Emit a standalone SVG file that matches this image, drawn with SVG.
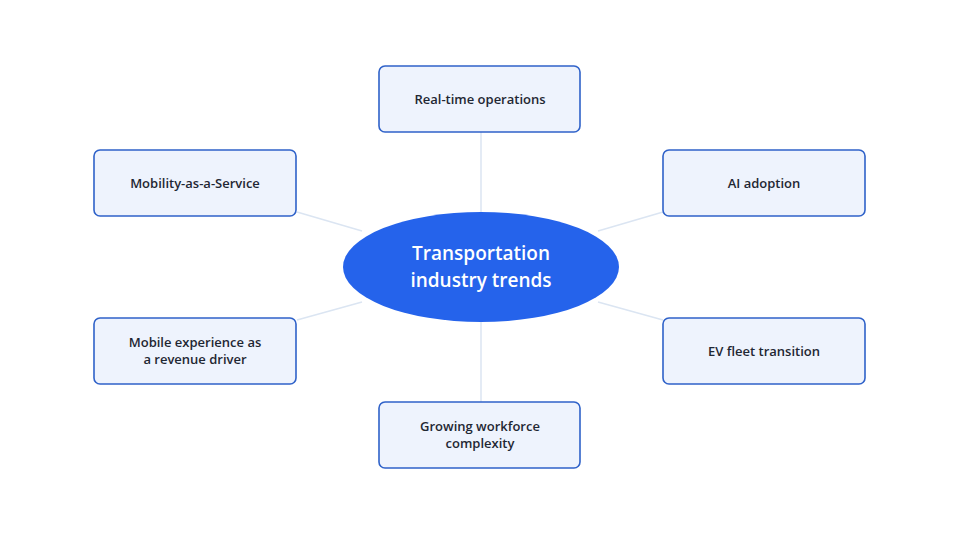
<svg xmlns="http://www.w3.org/2000/svg" width="960" height="540" viewBox="0 0 960 540">
<style>
.box{fill:#eef3fd;stroke:#2f62c9;stroke-width:1.6}
.lbl{font-family:"Open Sans","Liberation Sans",sans-serif;font-size:13px;font-weight:600;fill:#1f2733;text-anchor:middle}
.con{stroke:#dbe5f2;stroke-width:1.5;fill:none}
</style>
<rect width="960" height="540" fill="#fff"/>
<g id="connectors">
<line class="con" x1="481" y1="132" x2="481" y2="212"/>
<line class="con" x1="481" y1="322" x2="481" y2="402"/>
<line class="con" x1="297" y1="212" x2="362" y2="231"/>
<line class="con" x1="663" y1="212" x2="598" y2="231"/>
<line class="con" x1="297" y1="320" x2="362" y2="302"/>
<line class="con" x1="663" y1="320" x2="598" y2="302"/>
</g>
<g id="center"><ellipse cx="481" cy="267" rx="138" ry="55" fill="#2563eb"/>
<text font-family="Open Sans,Liberation Sans,sans-serif" font-size="19" font-weight="600" fill="#fff" text-anchor="middle"><tspan x="481" y="260">Transportation</tspan><tspan x="481" y="287">industry trends</tspan></text></g>
<g id="n1"><rect class="box" x="379" y="66" width="201" height="66" rx="6"/><text class="lbl" x="480" y="104">Real-time operations</text></g>
<g id="n2"><rect class="box" x="663" y="150" width="202" height="66" rx="6"/><text class="lbl" x="764" y="188">AI adoption</text></g>
<g id="n3"><rect class="box" x="663" y="318" width="202" height="66" rx="6"/><text class="lbl" x="764" y="356">EV fleet transition</text></g>
<g id="n4"><rect class="box" x="379" y="402" width="201" height="66" rx="6"/><text class="lbl"><tspan x="480" y="431">Growing workforce</tspan><tspan x="480" y="448">complexity</tspan></text></g>
<g id="n5"><rect class="box" x="94" y="318" width="202" height="66" rx="6"/><text class="lbl"><tspan x="195" y="347">Mobile experience as</tspan><tspan x="195" y="364">a revenue driver</tspan></text></g>
<g id="n6"><rect class="box" x="94" y="150" width="202" height="66" rx="6"/><text class="lbl" x="195" y="188">Mobility-as-a-Service</text></g>
</svg>
